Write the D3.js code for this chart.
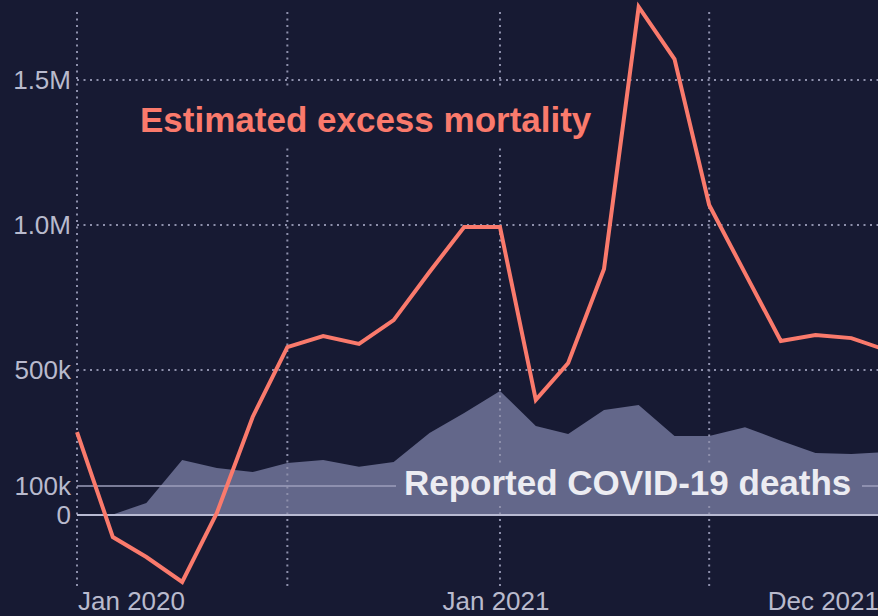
<!DOCTYPE html>
<html>
<head>
<meta charset="utf-8">
<script src="https://cdn.jsdelivr.net/npm/d3@7"></script>
<style>
  html, body { margin: 0; padding: 0; background: #171a33; }
  svg { display: block; font-family: "Liberation Sans", Arial, Helvetica, sans-serif; }
</style>
</head>
<body>
<svg id="chart" width="878" height="616"></svg>
<script>
// monthly values, Jan 2020 .. Dec 2021
var months = ['2020-01','2020-02','2020-03','2020-04','2020-05','2020-06','2020-07','2020-08','2020-09','2020-10','2020-11','2020-12',
              '2021-01','2021-02','2021-03','2021-04','2021-05','2021-06','2021-07','2021-08','2021-09','2021-10','2021-11','2021-12'];
var excess = [286000, -76000, -145000, -231000, 7000, 338000, 579000, 617000, 590000, 672000, 838000, 993000,
              993000, 397000, 524000, 848000, 1752000, 1572000, 1069000, 834000, 600000, 621000, 610000, 569000];
var reported = [0, 2000, 41000, 190000, 162000, 148000, 179000, 190000, 166000, 183000, 283000, 352000,
                428000, 307000, 279000, 362000, 379000, 272000, 272000, 303000, 256000, 214000, 210000, 217000];
var yTicks = [0, 100000, 500000, 1000000, 1500000];
var yTickLabels = ['0', '100k', '500k', '1.0M', '1.5M'];
var xTicks = ['2020-01', '2021-01', '2021-12'];
var xTickLabels = ['Jan 2020', 'Jan 2021', 'Dec 2021'];
var xGrid = ['2020-01', '2020-07', '2021-01', '2021-07'];

var parse = d3.utcParse('%Y-%m');
var data = months.map(function(m, i) {
  return { date: parse(m), excess: excess[i], reported: reported[i] };
});

var svg = d3.select('#chart');
var width = 878, height = 616;
var bg = '#171a33';
var areaColor = '#63678a';
var red = '#fa7a6c';
var gridColor = '#8d8fab';

var x = d3.scaleUtc()
  .domain([parse('2020-01'), parse('2021-12')])
  .range([77, 886]);
var y = d3.scaleLinear()
  .domain([0, 1500000])
  .range([515, 80]);

svg.append('rect').attr('width', width).attr('height', height).attr('fill', bg);

// reported deaths area
var area = d3.area()
  .x(function(d) { return x(d.date); })
  .y0(y(0))
  .y1(function(d) { return y(d.reported); });
svg.append('path')
  .datum(data)
  .attr('d', area)
  .attr('fill', areaColor);

// dotted grid
svg.append('g').selectAll('line')
  .data(xGrid)
  .enter().append('line')
  .attr('x1', function(d) { return x(parse(d)); })
  .attr('x2', function(d) { return x(parse(d)); })
  .attr('y1', 12).attr('y2', 590)
  .attr('stroke', gridColor)
  .attr('stroke-width', 2)
  .attr('stroke-dasharray', '2,4.5');

svg.append('g').selectAll('line')
  .data(yTicks.filter(function(d) { return d >= 500000; }))
  .enter().append('line')
  .attr('x1', 77).attr('x2', width)
  .attr('y1', function(d) { return y(d); })
  .attr('y2', function(d) { return y(d); })
  .attr('stroke', gridColor)
  .attr('stroke-width', 2)
  .attr('stroke-dasharray', '2,4.5');

// solid 100k and zero lines
svg.append('line')
  .attr('x1', 77).attr('x2', width)
  .attr('y1', y(100000)).attr('y2', y(100000))
  .attr('stroke', '#9c9ebb').attr('stroke-width', 1.5);
svg.append('line')
  .attr('x1', 77).attr('x2', width)
  .attr('y1', y(0)).attr('y2', y(0))
  .attr('stroke', '#b8bad2').attr('stroke-width', 2);

// y axis labels
var yAxis = d3.axisLeft(y)
  .tickValues(yTicks)
  .tickFormat(function(d, i) { return yTickLabels[i]; })
  .tickSize(0)
  .tickPadding(0);
svg.append('g')
  .attr('transform', 'translate(71,0)')
  .call(yAxis)
  .call(function(g) {
    g.select('.domain').remove();
    g.selectAll('text')
      .attr('fill', '#b9bacd')
      .attr('font-size', 26)
      .attr('font-family', '"Liberation Sans", Arial, sans-serif')
      .attr('dy', '0.34em');
  });

// x axis labels, kept inside the frame at the ends
svg.append('g').selectAll('text')
  .data(xTicks)
  .enter().append('text')
  .attr('x', function(d, i) {
    var px = x(parse(d));
    if (i === 0) return px + 1;
    if (i === xTicks.length - 1) return width + 1;
    return px - 4;
  })
  .attr('y', 610)
  .attr('text-anchor', function(d, i) { return i === 0 ? 'start' : (i === xTicks.length - 1 ? 'end' : 'middle'); })
  .attr('fill', '#b9bacd')
  .attr('font-size', 26)
  .text(function(d, i) { return xTickLabels[i]; });

// reported label
svg.append('rect')
  .attr('x', 396).attr('y', 463).attr('width', 466).attr('height', 42)
  .attr('fill', areaColor);
svg.append('text')
  .attr('x', 404).attr('y', 495)
  .attr('fill', '#ececf2')
  .attr('font-size', 35)
  .attr('font-weight', 'bold')
  .text('Reported COVID-19 deaths');

// excess mortality line
var line = d3.line()
  .x(function(d) { return x(d.date); })
  .y(function(d) { return y(d.excess); });
svg.append('path')
  .datum(data)
  .attr('d', line)
  .attr('fill', 'none')
  .attr('stroke', red)
  .attr('stroke-width', 4)
  .attr('stroke-linejoin', 'miter');

// excess label
svg.append('rect')
  .attr('x', 130).attr('y', 86).attr('width', 472).attr('height', 62)
  .attr('fill', bg);
svg.append('text')
  .attr('x', 140).attr('y', 132)
  .attr('fill', red)
  .attr('font-size', 35)
  .attr('font-weight', 'bold')
  .text('Estimated excess mortality');
</script>
</body>
</html>
